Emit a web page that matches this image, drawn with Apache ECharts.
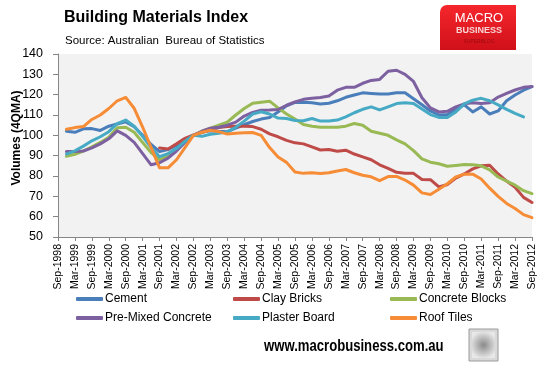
<!DOCTYPE html>
<html><head><meta charset="utf-8">
<script src="https://cdn.jsdelivr.net/npm/echarts@6/dist/echarts.min.js"></script>
<style>html,body{margin:0;padding:0;background:#fff}#c{width:545px;height:374px}</style>
</head><body><div id="c"></div>
<script>
const categories = ['Sep-1998','Dec-1998','Mar-1999','Jun-1999','Sep-1999','Dec-1999','Mar-2000','Jun-2000','Sep-2000','Dec-2000',
'Mar-2001','Jun-2001','Sep-2001','Dec-2001','Mar-2002','Jun-2002','Sep-2002','Dec-2002','Mar-2003','Jun-2003',
'Sep-2003','Dec-2003','Mar-2004','Jun-2004','Sep-2004','Dec-2004','Mar-2005','Jun-2005','Sep-2005','Dec-2005',
'Mar-2006','Jun-2006','Sep-2006','Dec-2006','Mar-2007','Jun-2007','Sep-2007','Dec-2007','Mar-2008','Jun-2008',
'Sep-2008','Dec-2008','Mar-2009','Jun-2009','Sep-2009','Dec-2009','Mar-2010','Jun-2010','Sep-2010','Dec-2010',
'Mar-2011','Jun-2011','Sep-2011','Dec-2011','Mar-2012','Jun-2012','Sep-2012'];

const cement = [null,102,101.5,103.2,103.3,102.4,104.5,105.6,106.6,104.2,100,
95.5,92,93,95,97.5,100,101.5,102.3,102,101.8,
103.5,105.2,106.8,108,108.8,111.5,114.5,116.2,116.3,116,
115.4,115.8,117,118.7,119.8,120.9,120.6,120.3,120.3,120.9,
120.9,118,115,112,110,110.2,113,115,111.5,114,
110.5,112,117,119.8,122.2,124];

const clayBricks = [null,null,null,null,null,null,null,null,null,null,null,null,
93.8,93.3,95.8,98.5,100.2,101.5,103,103.8,104.3,
104.5,104.5,104.3,103,100.7,99.3,97.5,96.3,95.8,94.3,
92.8,93,92.2,92.7,90.8,89.4,88,85.5,83.8,81.8,
81.4,81.3,78.3,78.2,74.6,75.8,79,81,83.5,85,
85.3,81,77.5,74.5,69.5,67];

const concreteBlocks = [null,89.7,90.7,92.3,94.3,96.5,99,103.7,104,101.5,96.5,
91.5,88,90,93,97,100,102,103.5,105,106.5,
110,113.2,115.8,116.3,116.8,113.5,110.5,108,105.3,104.5,
104,104,104,104.5,105.8,105,102,101,100,97.8,
95.8,92.5,88.4,86.8,86,84.8,85.2,85.6,85.5,85,
83,79.5,77.5,75.5,72.8,71.3];

const preMixedConcrete = [null,92,92,92.3,93.8,95.8,98.3,102.2,100,96.5,91,
85.5,86.5,88.8,92.3,96.5,100,102,103.5,104,105,
106.5,109.5,111.3,112.3,112.4,112.7,114.8,116.4,117.7,118.2,
118.6,119.3,122.2,123.6,123.6,125.6,127,127.5,131.5,132,
130,126.5,118.5,113.5,111.5,111.8,114,115.5,116,115.7,
116,118.8,120.6,122.3,123.6,124];

const plasterBoard = [null,90.8,92.4,94.7,97.3,99.3,101.8,105.8,107.5,104.5,99.5,
94,89.5,91,93.5,97,100,99.5,100.5,101,101.7,
104,107,110.5,111.6,110.5,108.5,108.3,107.3,107.2,108.3,
107,107,107.5,109.1,111.1,112.8,114,112.5,114,115.6,
116,115.7,113,110.2,108.8,108.8,111.5,115.5,117.3,118.2,
117,115,112.8,110.8,109.1,null];

const roofTiles = [null,103,103.8,104.3,107.8,110,113.2,117,118.7,113.3,104,
94,84,84,88,94,100,101.5,102.5,101.8,100.6,
101,101.3,101.4,100,94,89.3,86.7,82,81.3,81.6,
81.2,81.6,82.5,83.2,81.6,80.4,79.6,77.7,79.7,79.8,
78,75.5,71.7,70.9,73.5,76.2,79.5,80.9,80.9,78.5,
74,70,66.5,64,61,59.5];

const seriesNames = ['Cement','Clay Bricks','Concrete Blocks','Pre-Mixed Concrete','Plaster Board','Roof Tiles'];
const seriesData = [cement, clayBricks, concreteBlocks, preMixedConcrete, plasterBoard, roofTiles];
const colors = ['#4A7EBB','#BE4B48','#98B954','#7D60A0','#46AAC5','#F68C36'];

const FONT = '"Liberation Sans", Arial, sans-serif';
const chart = echarts.init(document.getElementById('c'), null, {renderer:'canvas'});

const legendBase = {
  orient:'vertical', top:292, padding:0, itemWidth:27, itemHeight:4, itemGap:5, icon:'roundRect',
  textStyle:{fontFamily:FONT, fontSize:12, color:'#000', lineHeight:14, padding:[0,0,0,-3]}, selectedMode:false
};

chart.setOption({
  animation:false,
  backgroundColor:'#fff',
  color: colors,
  grid:{left:58, right:13, top:54, bottom:137, show:true, backgroundColor:'#f2f2f2', borderWidth:0},
  xAxis:{
    type:'category', data:categories, boundaryGap:false,
    axisLine:{lineStyle:{color:'#868686', width:1}},
    axisTick:{show:true, interval:1, length:4, lineStyle:{color:'#868686'}},
    axisLabel:{interval:1, rotate:90, fontFamily:FONT, fontSize:10.5, color:'#000', margin:7},
    splitLine:{show:false}
  },
  yAxis:{
    type:'value', min:50, max:140, interval:10,
    axisLine:{show:true, lineStyle:{color:'#868686', width:1}},
    axisTick:{show:true, length:5, lineStyle:{color:'#868686'}},
    axisLabel:{fontFamily:FONT, fontSize:12.5, color:'#000', margin:15},
    splitLine:{show:false}
  },
  legend:[
    Object.assign({left:76, data:['Cement','Pre-Mixed Concrete']}, legendBase),
    Object.assign({left:233, data:['Clay Bricks','Plaster Board']}, legendBase),
    Object.assign({left:390, data:['Concrete Blocks','Roof Tiles']}, legendBase)
  ],
  series: seriesNames.map((n,i)=>({
    name:n, type:'line', data:seriesData[i], symbol:'none', showSymbol:false,
    lineStyle:{width:3, color:colors[i], cap:'round', join:'round'},
    itemStyle:{color:colors[i]}, connectNulls:false
  })),
  graphic:[
    {type:'text', left:64, top:10, style:{text:'Building Materials Index', font:'bold 16px '+FONT, fill:'#000'}},
    {type:'text', left:65, top:35, style:{text:'Source: Australian  Bureau of Statistics', font:'11.5px '+FONT, fill:'#000'}},
    {type:'text', x:17, y:138, rotation:Math.PI/2, style:{text:'Volumes (4QMA)', font:'bold 12px '+FONT, fill:'#000', align:'center', verticalAlign:'middle'}},
    {type:'rect', shape:{x:440, y:5, width:76, height:45, r:[7,0,0,0]},
      style:{fill:{type:'linear', x:0, y:0, x2:0, y2:1, colorStops:[{offset:0,color:'#f5262c'},{offset:1,color:'#d0101a'}]}}},
    {type:'text', x:479, y:18, style:{text:'MACRO', font:'13px '+FONT, fill:'#fff', align:'center', verticalAlign:'middle'}},
    {type:'text', x:479, y:31, style:{text:'BUSINESS', font:'bold 9px '+FONT, fill:'#f8d4d4', align:'center', verticalAlign:'middle'}},
    {type:'text', x:479, y:42, style:{text:'SUPERBLOG', font:'5px '+FONT, fill:'#9a0a10', align:'center', verticalAlign:'middle'}},
    {type:'text', x:264, y:347, scaleX:0.82, style:{text:'www.macrobusiness.com.au', font:'bold 16px '+FONT, fill:'#000', align:'left', verticalAlign:'middle'}},
    {type:'rect', shape:{x:469, y:329, width:29, height:32}, style:{fill:'#d9d9d9', stroke:'#9a9a9a', lineWidth:1}},
    {type:'rect', shape:{x:472, y:332, width:23, height:26}, style:{fill:{type:'radial', x:0.5, y:0.5, r:0.6, colorStops:[{offset:0,color:'#8a8a8a'},{offset:1,color:'#e8e8e8'}]}}}
  ]
});
</script></body></html>
